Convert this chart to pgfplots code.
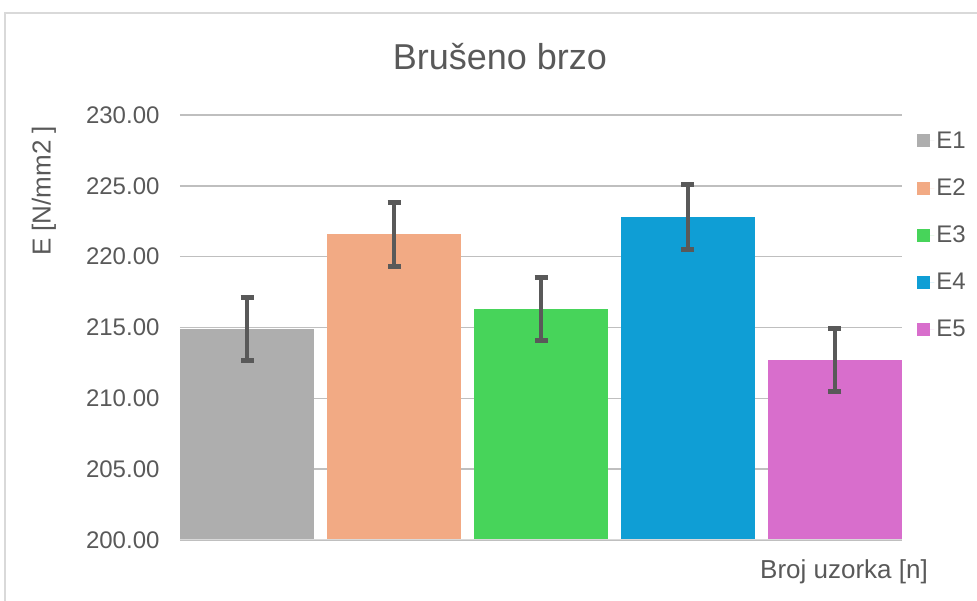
\documentclass[border=0pt]{standalone}
\usepackage{pgfplots}
\pgfplotsset{compat=1.18}
\usepackage{fontspec}
\setmainfont{Liberation Sans}
\definecolor{txt}{HTML}{595959}
\definecolor{grid}{HTML}{D9D9D9}
\definecolor{cA}{HTML}{AEAEAE}
\definecolor{cB}{HTML}{F2AA84}
\definecolor{cC}{HTML}{47D45A}
\definecolor{cD}{HTML}{0F9ED5}
\definecolor{cE}{HTML}{D86ECC}
\begin{document}
\begin{tikzpicture}
\path[use as bounding box] (-180pt,-61pt) rectangle (797pt,540pt);
\clip (-180pt,-61pt) rectangle (797pt,540pt);
\draw[grid, line width=1.5pt] (-175pt,-120pt) -- (-175pt,527pt) -- (900pt,527pt);
\begin{axis}[
  at={(0pt,0pt)}, anchor=south west,
  scale only axis, width=722pt, height=425pt,
  xmin=-0.456, xmax=4.456,
  ymin=200, ymax=230,
  ytick={200,205,...,230},
  xtick=\empty,
  ymajorgrids, grid style={grid, line width=1.6pt},
  axis line style={draw=none},
  major tick length=0pt,
  bar width=0.912,
  /pgf/number format/.cd, fixed, fixed zerofill, precision=2, assume math mode=true,
  /pgfplots/.cd,
  yticklabel style={font=\fontsize{24}{28}\selectfont, text=txt, xshift=-17pt},
  legend style={at={(1.017,0.97)}, anchor=north west, draw=none, fill=none,
    font=\fontsize{24}{28}\selectfont, text=txt, row sep=25pt},
  legend cell align=left,
  legend image code/.code={\fill[#1] (0pt,-6.5pt) rectangle (13pt,6.5pt); \path (0pt,0pt) -- (17pt,0pt);},
  error bars/error bar style={line width=4pt, color=txt},
  error bars/error mark options={rotate=90, mark size=6.5pt, line width=5pt, color=txt},
]
\addplot[ybar, bar shift=0pt, fill=cA, draw=none, error bars/.cd, y dir=both, y explicit]
  coordinates {(0,214.89) +- (0,2.22)};
\addplot[ybar, bar shift=0pt, fill=cB, draw=none, error bars/.cd, y dir=both, y explicit]
  coordinates {(1,221.58) +- (0,2.27)};
\addplot[ybar, bar shift=0pt, fill=cC, draw=none, error bars/.cd, y dir=both, y explicit]
  coordinates {(2,216.30) +- (0,2.24)};
\addplot[ybar, bar shift=0pt, fill=cD, draw=none, error bars/.cd, y dir=both, y explicit]
  coordinates {(3,222.80) +- (0,2.27)};
\addplot[ybar, bar shift=0pt, fill=cE, draw=none, error bars/.cd, y dir=both, y explicit]
  coordinates {(4,212.72) +- (0,2.21)};
\legend{E1,E2,E3,E4,E5}
\draw[grid, line width=1.6pt] (rel axis cs:0,0) -- (rel axis cs:1,0);
\end{axis}
\node[text=txt, font=\fontsize{36}{40}\selectfont] at (320pt,483pt) {Brušeno brzo};
\node[text=txt, font=\fontsize{26}{30}\selectfont, rotate=90] at (-136pt,349pt) {E [N/mm2 ]};
\node[text=txt, font=\fontsize{26}{30}\selectfont, anchor=east, inner sep=0pt] at (748pt,-32pt) {Broj uzorka [n]};
\end{tikzpicture}
\end{document}
